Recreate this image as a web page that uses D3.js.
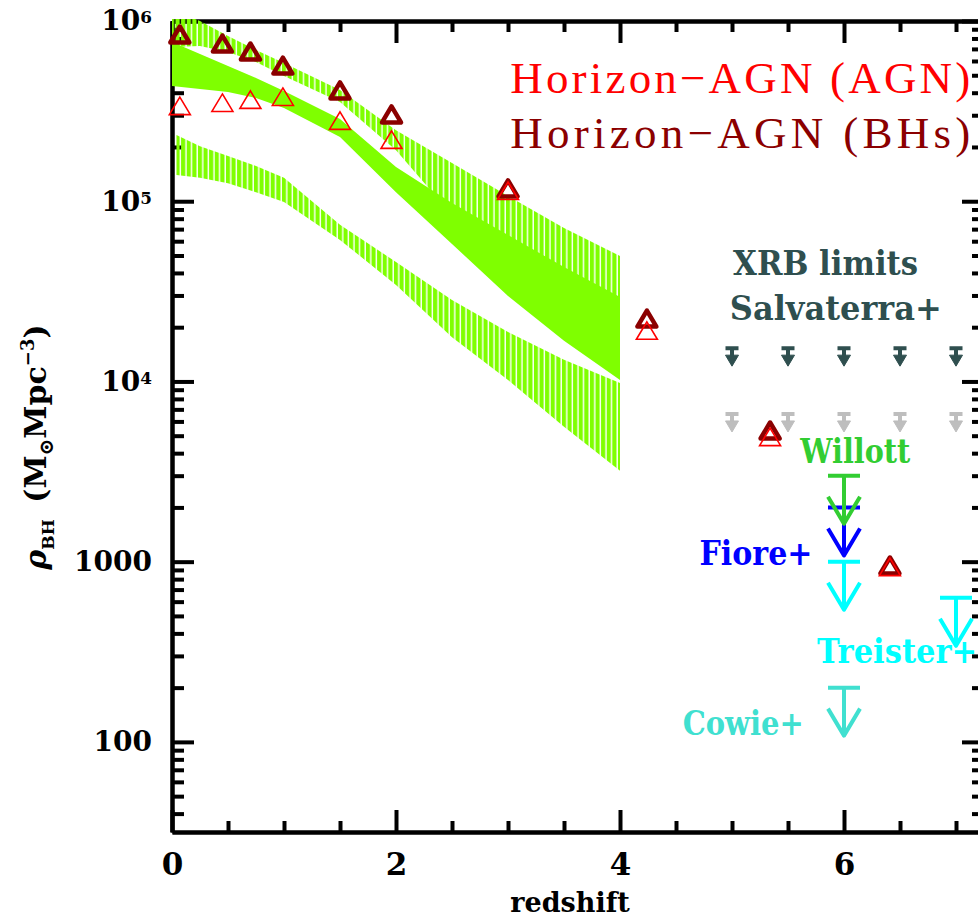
<!DOCTYPE html>
<html lang="en">
<head>
<meta charset="utf-8">
<title>Black hole mass density vs redshift</title>
<script src="https://d3js.org/d3.v7.min.js"></script>
<style>
  body { margin: 0; background: #fff; }
  svg { display: block; }
  .axis path, .axis line { stroke: #000; stroke-width: 4px; }
  .axis text { font-family: "DejaVu Serif", serif; font-weight: bold; fill: #000; }
  .xaxis text { font-size: 31px; }
  .yaxis text { font-size: 28px; }
  .lbl { font-family: "DejaVu Serif", serif; font-weight: bold; }
  .legend { font-family: "Liberation Serif", serif; font-size: 45px; }
</style>
</head>
<body>
<div id="chart"></div>
<script>
// ---- values ----

// green bands (integrated AGN luminosity functions), lo/hi edges at these redshifts
var bandZ   = [0, 0.25, 0.5, 0.75, 1, 1.5, 2, 2.5, 3, 3.5, 4];
var bandAHi = [1.15e6, 1.0e6, 8.26e5, 6.91e5, 5.85e5, 4.14e5, 2.48e5, 1.63e5, 1.07e5, 7.10e4, 4.97e4];
var bandALo = [7.17e5, 7.27e5, 6.73e5, 5.92e5, 4.95e5, 3.55e5, 1.92e5, 8.38e4, 5.36e4, 3.43e4, 2.34e4];
var bandBHi = [7.65e5, 6.56e5, 5.63e5, 4.83e5, 4.09e5, 2.86e5, 1.55e5, 9.77e4, 6.49e4, 4.31e4, 2.94e4];
var bandBLo = [4.36e5, 4.19e5, 4.04e5, 3.74e5, 3.29e5, 2.27e5, 1.12e5, 5.79e4, 2.98e4, 1.68e4, 1.02e4];
var bandCZ  = [0.04, 0.25, 0.5, 0.75, 1, 1.5, 2, 2.5, 3, 3.5, 4];
var bandCHi = [2.33e5, 2.02e5, 1.78e5, 1.57e5, 1.35e5, 7.4e4, 4.6e4, 2.83e4, 1.88e4, 1.32e4, 9.8e3];
var bandCLo = [1.40e5, 1.35e5, 1.26e5, 1.12e5, 9.9e4, 6.1e4, 3.43e4, 1.76e4, 1.02e4, 5.6e3, 3.2e3];

// Horizon-AGN simulation
var simZ   = [0.07, 0.45, 0.70, 0.99, 1.50, 1.96, 3.00, 4.24, 5.34, 6.41];
var bhRho  = [8.36e5, 7.45e5, 6.73e5, 5.62e5, 4.09e5, 3.01e5, 1.17e5, 2.22e4, 5.31e3, 946];
var agnRho = [3.37e5, 3.51e5, 3.65e5, 3.79e5, 2.79e5, 2.19e5, 1.14e5, 1.91e4, 4.91e3, 933];

// XRB limits (Salvaterra+)
var xrbZ   = [5, 5.5, 6, 6.5, 7];
var xrbHi  = 1.53e4;
var xrbLo  = 6.6e3;

// observational upper limits
var limNames  = ["Fiore+", "Willott", "Treister+", "Treister+", "Cowie+"];
var limZ      = [6, 6, 6, 7, 6];
var limRho    = [2000, 3000, 1000, 630, 200];
var limColors = ["#0000ff", "#32cd32", "#00ffff", "#00ffff", "#40e0d0"];

var xMajor = [0, 2, 4, 6];
var xMinor = [0.5, 1, 1.5, 2.5, 3, 3.5, 4.5, 5, 5.5, 6.5, 7];
var yMajor = [100, 1000, 1e4, 1e5, 1e6];

var green = "#7fff00", darkRed = "#8b0000", red = "#ff0000", slate = "#2f4f4f", grey = "#bebebe";

// ---- chart ----
var W = 978, H = 919;
var x = d3.scaleLinear().domain([0, 7.25]).range([172, 984]);
var y = d3.scaleLog().domain([Math.pow(10, 1.5), 1e6]).range([832, 21]);

var svg = d3.select("#chart").append("svg").attr("width", W).attr("height", H);
var defs = svg.append("defs");

defs.append("clipPath").attr("id", "plotclip").append("rect")
    .attr("x", 160).attr("y", 19).attr("width", 830).attr("height", 815);

var step = x(0.05) - x(0), barW = 4.2;
defs.append("pattern").attr("id", "hatch").attr("patternUnits", "userSpaceOnUse")
    .attr("x", x(0) - barW / 2).attr("y", 0).attr("width", step).attr("height", 10)
  .append("rect").attr("width", barW).attr("height", 10).attr("fill", green);

// axes
var minorY = y.ticks().filter(function(v) { return yMajor.indexOf(v) < 0; });

var gb = svg.append("g").attr("class", "axis xaxis").attr("transform", "translate(0,832)");
gb.call(d3.axisBottom(x).tickValues(xMajor).tickSize(-22).tickSizeOuter(0).tickPadding(21).tickFormat(d3.format("d")));
gb.append("g").call(d3.axisBottom(x).tickValues(xMinor).tickSize(-11).tickSizeOuter(0).tickFormat(""));

var gt = svg.append("g").attr("class", "axis").attr("transform", "translate(0,21)");
gt.call(d3.axisTop(x).tickValues(xMajor).tickSize(-22).tickSizeOuter(0).tickFormat(""));
gt.append("g").call(d3.axisTop(x).tickValues(xMinor).tickSize(-11).tickSizeOuter(0).tickFormat(""));

var gl = svg.append("g").attr("class", "axis yaxis").attr("transform", "translate(172,0)");
gl.call(d3.axisLeft(y).tickValues(yMajor).tickSize(-22).tickSizeOuter(0).tickPadding(20).tickFormat(""));
gl.selectAll(".tick text").each(function(d) {
  var t = d3.select(this), e = Math.round(Math.log10(d));
  if (e <= 3) { t.text(d); return; }
  t.append("tspan").text("10");
  t.append("tspan").attr("dy", "-0.42em").attr("font-size", "0.6em").text(e);
});
gl.append("g").call(d3.axisLeft(y).tickValues(minorY).tickSize(-12).tickSizeOuter(0).tickFormat(""));

var gr = svg.append("g").attr("class", "axis").attr("transform", "translate(984,0)");
gr.call(d3.axisRight(y).tickValues(yMajor).tickSize(-22).tickSizeOuter(0).tickFormat(""));
gr.append("g").call(d3.axisRight(y).tickValues(minorY).tickSize(-12).tickSizeOuter(0).tickFormat(""));

// green bands
var plot = svg.append("g").attr("clip-path", "url(#plotclip)");
var area = d3.area()
    .x(function(d) { return x(d[0]); })
    .y0(function(d) { return y(d[1]); })
    .y1(function(d) { return y(d[2]); });

plot.append("path").datum(d3.zip(bandZ, bandALo, bandAHi)).attr("d", area).attr("fill", "url(#hatch)");
plot.append("path").datum(d3.zip(bandCZ, bandCLo, bandCHi)).attr("d", area).attr("fill", "url(#hatch)");
plot.append("path").datum(d3.zip(bandZ, bandBLo, bandBHi)).attr("d", area).attr("fill", green);

// Horizon-AGN triangles
plot.selectAll(".bh").data(d3.zip(simZ, bhRho)).join("path")
    .attr("class", "bh")
    .attr("transform", function(d) { return "translate(" + x(d[0]) + "," + y(d[1]) + ")"; })
    .attr("d", "M0,-8.5L9.5,7.5L-9.5,7.5Z")
    .attr("fill", "none").attr("stroke", darkRed).attr("stroke-width", 4.5).attr("stroke-linejoin", "round");

plot.selectAll(".agn").data(d3.zip(simZ, agnRho)).join("path")
    .attr("class", "agn")
    .attr("transform", function(d) { return "translate(" + x(d[0]) + "," + y(d[1]) + ")"; })
    .attr("d", "M0,-9L10.5,8.5L-10.5,8.5Z")
    .attr("fill", "none").attr("stroke", red).attr("stroke-width", 1.6);

// XRB small arrows
function smallArrows(v, color) {
  plot.selectAll(null).data(xrbZ).join("path")
      .attr("d", function(z) {
        var X = x(z), Y = y(v);
        return "M" + (X - 6.5) + "," + Y + "H" + (X + 6.5) + "M" + X + "," + Y + "V" + (Y + 9);
      })
      .attr("stroke", color).attr("stroke-width", 4).attr("fill", "none");
  plot.selectAll(null).data(xrbZ).join("path")
      .attr("d", function(z) {
        var X = x(z), Y = y(v);
        return "M" + (X - 6.5) + "," + (Y + 7) + "L" + (X + 6.5) + "," + (Y + 7) + "L" + X + "," + (Y + 18) + "Z";
      })
      .attr("fill", color).attr("stroke", color).attr("stroke-width", 1).attr("stroke-linejoin", "round");
}
smallArrows(xrbHi, slate);
smallArrows(xrbLo, grey);

// upper-limit arrows
plot.selectAll(".lim").data(d3.zip(limZ, limRho, limColors)).join("path")
    .attr("class", "lim")
    .attr("d", function(d) {
      var X = x(d[0]), Y = y(d[1]);
      return "M" + (X - 16) + "," + Y + "H" + (X + 16) +
             "M" + X + "," + Y + "V" + (Y + 48) +
             "M" + (X - 16) + "," + (Y + 21) + "L" + X + "," + (Y + 48) + "L" + (X + 16) + "," + (Y + 21);
    })
    .attr("fill", "none").attr("stroke", function(d) { return d[2]; })
    .attr("stroke-width", 4).attr("stroke-linejoin", "round");

// annotations (placed in data coordinates)
var notes = [
  { t: "XRB limits",  z: 5.01, v: 3.89e4, c: slate,     w: 185 },
  { t: "Salvaterra+", z: 4.98, v: 2.19e4, c: slate,     w: 212 },
  { t: "Willott",     z: 5.61, v: 3.52e3, c: "#32cd32", w: 110 },
  { t: "Fiore+",      z: 4.71, v: 957,    c: "#0000ff", w: 113 },
  { t: "Treister+",   z: 5.76, v: 274,    c: "#00ffff", w: 160 },
  { t: "Cowie+",      z: 4.56, v: 109,    c: "#40e0d0", w: 121 }
];
svg.selectAll(".note").data(notes).join("text")
    .attr("class", "lbl note")
    .attr("x", function(d) { return x(d.z); })
    .attr("y", function(d) { return y(d.v); })
    .attr("font-size", 33)
    .attr("textLength", function(d) { return d.w; })
    .attr("lengthAdjust", "spacingAndGlyphs")
    .attr("fill", function(d) { return d.c; })
    .text(function(d) { return d.t; });

// legend
var legend = [
  { t: "Horizon\u2212AGN (AGN)", c: red,     v: 3.99e5 },
  { t: "Horizon\u2212AGN (BHs)", c: darkRed, v: 1.97e5 }
];
svg.selectAll(".legend").data(legend).join("text")
    .attr("class", "legend")
    .attr("x", x(3.02))
    .attr("y", function(d) { return y(d.v); })
    .attr("textLength", 460).attr("lengthAdjust", "spacing")
    .attr("fill", function(d) { return d.c; })
    .text(function(d) { return d.t; });

// axis titles
svg.append("text").attr("class", "lbl").attr("font-size", 27)
    .attr("x", 570).attr("y", 912).attr("text-anchor", "middle").text("redshift");

var yl = svg.append("text").attr("class", "lbl").attr("font-size", 30)
    .attr("transform", "translate(46,447) rotate(-90)").attr("text-anchor", "middle");
yl.append("tspan").attr("font-style", "italic").text("\u03c1");
yl.append("tspan").attr("font-size", 17).attr("dy", 8).text("BH");
yl.append("tspan").attr("dy", -8).text("\u2009 (M");
yl.append("tspan").attr("font-size", 20).attr("dy", 7).text("\u2299");
yl.append("tspan").attr("dy", -7).text("Mpc");
yl.append("tspan").attr("font-size", 18).attr("dy", -12).text("\u22123");
yl.append("tspan").attr("dy", 12).text(")");
</script>
</body>
</html>
